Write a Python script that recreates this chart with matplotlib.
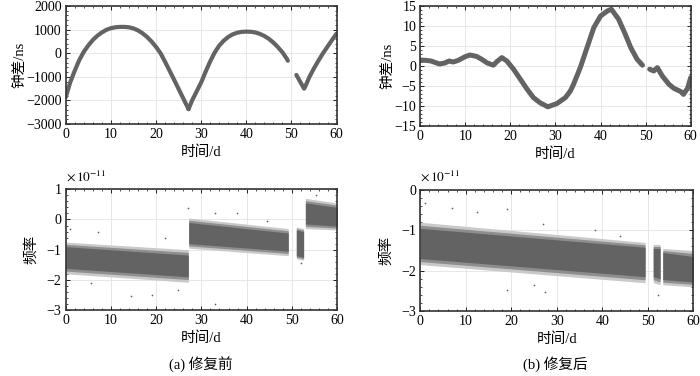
import numpy as np
import matplotlib.pyplot as plt
from matplotlib.ticker import MultipleLocator

plt.rcParams['font.family'] = ['Liberation Serif', 'Noto Sans CJK SC']
plt.rcParams['mathtext.fontset'] = 'stix'
plt.rcParams['font.size'] = 8

grey = '#636363'

# (a) clock offset before repair, ns (three arcs, gaps in between)
day_a1 = [0, 1, 2, 3, 4, 5, 6, 7, 8, 9, 10, 11, 12, 13, 14, 15, 16, 17, 18, 19, 20,
          21, 22, 23, 24, 25, 26, 27, 27.2]
clk_a1 = [-1870, -1230, -740, -290, 60, 330, 560, 740, 880, 990, 1060, 1100, 1115, 1115,
          1098, 1051, 967, 847, 691, 498, 269, 0, -360, -740, -1120, -1510, -1900, -2290, -2370]
day_a2 = [27.2, 28, 29, 30, 31, 32, 33, 34, 35, 36, 37, 38, 39, 40, 41, 42, 43, 44, 45, 46,
          47, 48, 49, 49.2]
clk_a2 = [-2370, -2000, -1620, -1240, -780, -350, 30, 320, 530, 690, 800, 870, 905, 915,
          910, 880, 820, 730, 610, 450, 260, 40, -240, -320]
day_a3 = [51.1, 52, 52.8, 53, 54, 55, 56, 57, 58, 59, 60]
clk_a3 = [-920, -1230, -1500, -1440, -1000, -640, -310, 0, 280, 560, 830]

# (b) clock offset after repair, ns
day_b1 = [0, 1.3, 2.4, 3.5, 4.3, 5.4, 6.4, 7.3, 8.4, 9.9, 11.0, 12.5, 13.6, 14.8, 16.2, 17.0,
          18.1, 19.2, 20.7, 22.2, 23.7, 25.1, 26.6, 28.3, 30.3, 32.2, 33.3, 34.0, 35.5, 37.0,
          38.5, 40.0, 41.5, 42.4, 44.0, 45.5, 46.7, 48.1, 49.3]
clk_b1 = [1.5, 1.4, 1.25, 0.8, 0.5, 0.75, 1.25, 1.0, 1.4, 2.3, 2.75, 2.4, 1.7, 0.8, 0.2, 1.1,
          2.1, 1.25, -0.8, -3.3, -5.8, -7.9, -9.2, -10.2, -9.4, -7.9, -6.25, -4.6, -0.4, 4.6,
          9.6, 12.5, 13.75, 14.2, 11.7, 7.9, 4.6, 1.7, 0.2]
day_b2 = [50.9, 51.8, 52.6, 53.7, 55.2, 56.3, 57.8, 58.4, 59.3, 60.0]
clk_b2 = [-0.8, -1.25, -0.4, -2.5, -4.6, -5.6, -6.4, -7.1, -5.6, -2.9]

# frequency bands (x1e-11): [day start, day end], dense core and sparse fringe bounds
freq_a_days = [[0, 27.1], [27.2, 49.2], [51.0, 52.6], [53.0, 60]]
freq_a_core_hi = [[-0.9, -1.18], [-0.1, -0.45], [-0.35, -0.4], [0.55, 0.4]]
freq_a_core_lo = [[-1.62, -1.9], [-0.8, -1.05], [-1.2, -1.25], [-0.15, -0.22]]
freq_a_fr_hi = [[-0.75, -1.0], [0.05, -0.3], [-0.25, -0.3], [0.7, 0.55]]
freq_a_fr_lo = [[-1.8, -2.08], [-0.95, -1.2], [-1.3, -1.35], [-0.3, -0.35]]
freq_a_out_x = [0.95, 7.2, 14.4, 19.0, 24.9, 27.1, 33.0, 33.0, 37.9, 52.1, 55.4, 44.5, 5.5, 22.0]
freq_a_out_y = [-0.33, -0.43, -2.54, -2.5, -2.34, 0.37, 0.2, -2.8, 0.2, -1.45, 0.81, -0.05, -2.1, -0.6]

freq_b_days = [[0, 49.4], [51.2, 52.7], [53.3, 60]]
freq_b_core_hi = [[-0.95, -1.42], [-1.45, -1.45], [-1.55, -1.65]]
freq_b_core_lo = [[-1.7, -2.15], [-2.15, -2.2], [-2.22, -2.28]]
freq_b_fr_hi = [[-0.8, -1.3], [-1.35, -1.35], [-1.45, -1.5]]
freq_b_fr_lo = [[-1.85, -2.3], [-2.3, -2.35], [-2.35, -2.4]]
freq_b_out_x = [1.0, 6.9, 12.4, 19.0, 19.0, 27.4, 52.3, 38.4, 27.0, 25.0, 44.0]
freq_b_out_y = [-0.33, -0.45, -0.55, -0.48, -2.48, -2.52, -2.6, -0.99, -0.85, -2.35, -1.15]


def style_axes(ax, ylim, ystep):
    ax.set_xlim(0, 60)
    ax.set_ylim(*ylim)
    ax.xaxis.set_major_locator(MultipleLocator(10))
    ax.xaxis.set_minor_locator(MultipleLocator(2))
    ax.yaxis.set_major_locator(MultipleLocator(ystep))
    ax.yaxis.set_minor_locator(MultipleLocator(ystep / 5))
    ax.tick_params(which='both', direction='in', top=True, right=True, labelsize=10, pad=3)
    ax.tick_params(which='major', length=3, width=0.6)
    ax.tick_params(which='minor', length=1.5, width=0.5)
    ax.grid(which='major', color='#e3e3e3', linewidth=0.6)
    ax.set_axisbelow(True)
    for s in ax.spines.values():
        s.set_linewidth(1.2)
        s.set_color('#333333')
    ax.set_xlabel('时间/d', fontsize=10.5, labelpad=3)


def draw_bands(ax, days, core_hi, core_lo, fr_hi, fr_lo, out_x, out_y):
    for d, ch, cl, fh, fl in zip(days, core_hi, core_lo, fr_hi, fr_lo):
        ax.fill_between(d, fl, fh, color='#c9c9c9', linewidth=0)
        mid_hi = [(a + b) / 2 for a, b in zip(ch, fh)]
        mid_lo = [(a + b) / 2 for a, b in zip(cl, fl)]
        ax.fill_between(d, mid_lo, mid_hi, color='#8e8e8e', linewidth=0)
        ax.fill_between(d, cl, ch, color=grey, linewidth=0)
    ax.scatter(out_x, out_y, s=1.5, color=grey, linewidths=0)


fig = plt.figure(figsize=(7, 3.76), dpi=100)

ax1 = fig.add_axes([0.0939, 0.6702, 0.3869, 0.3138])
for d, v in [(day_a1, clk_a1), (day_a2, clk_a2), (day_a3, clk_a3)]:
    ax1.plot(d, v, color=grey, linewidth=3.0, solid_capstyle='round')
style_axes(ax1, (-3000, 2000), 1000)
ax1.set_ylabel('钟差/ns', fontsize=10.5, labelpad=0)

ax2 = fig.add_axes([0.6004, 0.6649, 0.3863, 0.3191])
for d, v in [(day_b1, clk_b1), (day_b2, clk_b2)]:
    ax2.plot(d, v, color=grey, linewidth=3.6, solid_capstyle='round')
style_axes(ax2, (-15, 15), 5)
ax2.set_ylabel('钟差/ns', fontsize=10.5, labelpad=0)

ax3 = fig.add_axes([0.0939, 0.1755, 0.3876, 0.3210])
draw_bands(ax3, freq_a_days, freq_a_core_hi, freq_a_core_lo, freq_a_fr_hi, freq_a_fr_lo,
           freq_a_out_x, freq_a_out_y)
style_axes(ax3, (-3, 1), 1)
ax3.set_ylabel('频率', fontsize=10.5, labelpad=6)
ax3.text(0.0, 1.05, r'$\times\,10^{-11}$', transform=ax3.transAxes, fontsize=9.5, va='bottom')

ax4 = fig.add_axes([0.6004, 0.1729, 0.39, 0.3218])
draw_bands(ax4, freq_b_days, freq_b_core_hi, freq_b_core_lo, freq_b_fr_hi, freq_b_fr_lo,
           freq_b_out_x, freq_b_out_y)
style_axes(ax4, (-3, 0), 1)
ax4.set_ylabel('频率', fontsize=10.5, labelpad=6)
ax4.text(0.0, 1.05, r'$\times\,10^{-11}$', transform=ax4.transAxes, fontsize=9.5, va='bottom')

fig.text(0.287, 0.018, '(a) 修复前', ha='center', fontsize=10.5)
fig.text(0.793, 0.018, '(b) 修复后', ha='center', fontsize=10.5)

plt.savefig('out.png', dpi=100)
